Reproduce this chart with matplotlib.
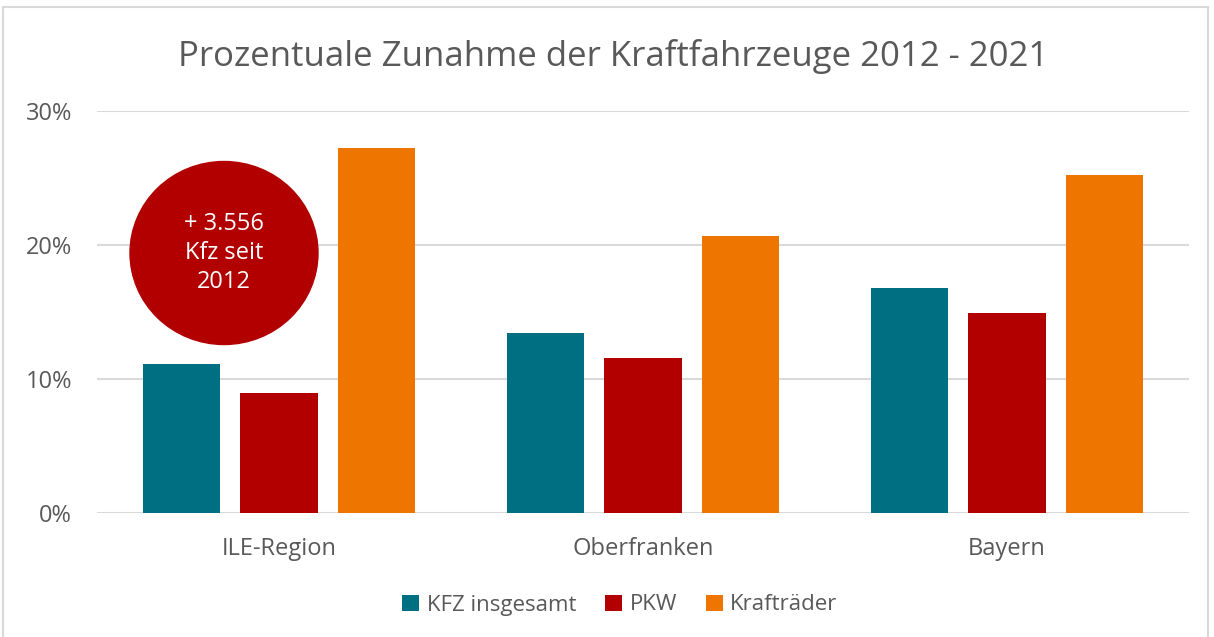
import matplotlib

matplotlib.use("Agg")
import matplotlib.pyplot as plt
import numpy as np
from matplotlib.patches import Ellipse, Rectangle
from matplotlib.ticker import FuncFormatter

regions = ["ILE-Region", "Oberfranken", "Bayern"]
series = ["KFZ insgesamt", "PKW", "Krafträder"]
kfz = [11.15, 13.4, 16.8]
pkw = [8.95, 11.6, 14.9]
kraft = [27.25, 20.7, 25.2]
yticks = [0, 10, 20, 30]

COLORS = ["#006F81", "#B20000", "#EE7600"]
TEXT = "#595959"
GRID = "#d9d9d9"

plt.rcParams["font.family"] = ["Open Sans", "DejaVu Sans"]

W, H = 1214, 637
fig = plt.figure(figsize=(W / 100, H / 100), dpi=100)
ax = fig.add_axes([97 / W, (H - 513) / H, (1189 - 97) / W, (513 - 111) / H])

x = np.arange(len(regions))
step = 0.268
width = 0.212
for i, (vals, name, c) in enumerate(zip([kfz, pkw, kraft], series, COLORS)):
    ax.bar(x + (i - 1) * step, vals, width=width, color=c, label=name, zorder=3)

ax.set_xlim(-0.5, 2.5)
ax.set_ylim(0, 30)
ax.set_yticks(yticks)
ax.yaxis.set_major_formatter(FuncFormatter(lambda v, _: f"{v:.0f}%"))
ax.set_xticks(x)
ax.set_xticklabels(regions)
ax.tick_params(axis="both", length=0, labelsize=17, colors=TEXT)
ax.tick_params(axis="x", pad=17)
ax.tick_params(axis="y", pad=18)
ax.yaxis.grid(True, color=GRID, linewidth=1.5, zorder=0)
for s in ax.spines.values():
    s.set_visible(False)

fig.text(613 / W, 1 - 57 / H, "Prozentuale Zunahme der Kraftfahrzeuge 2012 - 2021",
         ha="center", va="center", fontsize=25, color=TEXT)

fig.legend(loc="center", bbox_to_anchor=(620 / W, 1 - 605 / H), ncol=3, frameon=False,
           fontsize=16, labelcolor=TEXT, handlelength=0.75, handleheight=0.75,
           columnspacing=1.3, handletextpad=0.35)

# red callout circle
cx, cy = 224, 253
fig.add_artist(Ellipse((cx / W, 1 - cy / H), 188 / W, 183 / H,
                       transform=fig.transFigure, color="#B20000", zorder=5))
fig.text(cx / W, 1 - cy / H, "+ 3.556\nKfz seit\n2012", ha="center", va="center",
         color="white", fontsize=17, linespacing=1.3, zorder=6)

# chart frame
fig.add_artist(Rectangle((3 / W, -0.01), (1208 - 3) / W, (H - 7) / H + 0.01,
                         transform=fig.transFigure, fill=False,
                         edgecolor=GRID, linewidth=1.5))

fig.savefig("out.png", dpi=100, facecolor="white")
